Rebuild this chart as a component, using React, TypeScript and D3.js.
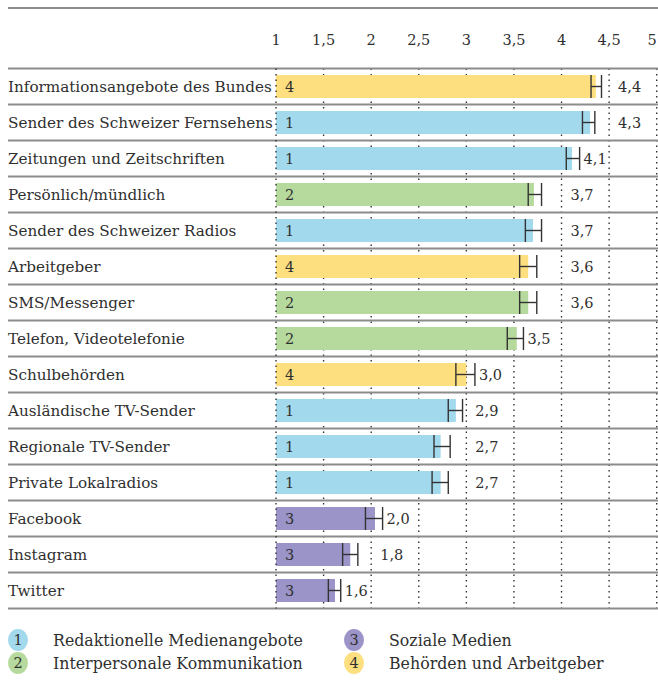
import React from 'react';
import * as d3 from 'd3';

const categories = [
  'Informationsangebote des Bundes',
  'Sender des Schweizer Fernsehens',
  'Zeitungen und Zeitschriften',
  'Persönlich/mündlich',
  'Sender des Schweizer Radios',
  'Arbeitgeber',
  'SMS/Messenger',
  'Telefon, Videotelefonie',
  'Schulbehörden',
  'Ausländische TV-Sender',
  'Regionale TV-Sender',
  'Private Lokalradios',
  'Facebook',
  'Instagram',
  'Twitter',
];
const groups = [4, 1, 1, 2, 1, 4, 2, 2, 4, 1, 1, 1, 3, 3, 3];
const means = [4.36, 4.30, 4.11, 3.71, 3.70, 3.65, 3.65, 3.53, 3.00, 2.89, 2.73, 2.73, 2.04, 1.78, 1.62];
const ciLow = [4.31, 4.22, 4.05, 3.65, 3.62, 3.56, 3.56, 3.43, 2.89, 2.81, 2.66, 2.64, 1.94, 1.70, 1.55];
const ciHigh = [4.42, 4.35, 4.19, 3.79, 3.79, 3.74, 3.74, 3.60, 3.09, 2.96, 2.83, 2.81, 2.12, 1.86, 1.68];
const valueLabels = ['4,4', '4,3', '4,1', '3,7', '3,7', '3,6', '3,6', '3,5', '3,0', '2,9', '2,7', '2,7', '2,0', '1,8', '1,6'];
const ticks = [1, 1.5, 2, 2.5, 3, 3.5, 4, 4.5, 5];
const tickLabels = ['1', '1,5', '2', '2,5', '3', '3,5', '4', '4,5', '5'];
const legendGroups = [1, 2, 3, 4];
const legendNames = ['Redaktionelle Medienangebote', 'Interpersonale Kommunikation', 'Soziale Medien', 'Behörden und Arbeitgeber'];
const groupColors = ['#a2d9ec', '#b6da9d', '#9b94c8', '#fddf80'];

const W = 658;
const H = 687;
const FONT = "'DejaVu Serif', serif";
const TEXT = '#2f2f2f';

export default function App() {
  const x = d3.scaleLinear().domain([1, 5]).range([276, 656.7]);
  const y = d3.scaleBand<string>().domain(categories).range([68.5, 608.5]);
  const barH = 23;
  const color = d3.scaleOrdinal<number, string>().domain(legendGroups).range(groupColors);

  // value label goes right of the error bar, or past the next gridline if it would touch it
  const labelX = (i: number) => {
    const start = x(ciHigh[i]) + 4;
    const next = ticks.find(t => t > ciHigh[i]) ?? 5;
    if (start + 23 > x(next) - 1) return x(next) + 9;
    return start;
  };

  const sepYs = d3.range(categories.length + 1).map(i => y.range()[0] + i * y.bandwidth());

  return (
    <div style={{ position: 'absolute', left: 0, top: 0 }}>
      <svg width={W} height={H} style={{ display: 'block', background: '#fff' }} fontFamily={FONT}>
        <line x1={8} x2={W} y1={8} y2={8} stroke="#8c8c8c" strokeWidth={2} />
        {ticks.map((t, i) => (
          <text key={'tl' + i} x={Math.min(x(t), 652)} y={45} textAnchor="middle" fontSize={14.5} fill={TEXT}>
            {tickLabels[i]}
          </text>
        ))}
        {ticks.filter(t => t !== 1).map(t => (
          <line key={'g' + t} x1={x(t)} x2={x(t)} y1={68.5} y2={608.5} stroke="#333" strokeWidth={1.4} strokeDasharray="1.5 4" />
        ))}
        {sepYs.map((sy, i) => (
          <line key={'s' + i} x1={8} x2={W} y1={sy} y2={sy} stroke="#8c8c8c" strokeWidth={2} />
        ))}
        {categories.map((c, i) => {
          const cy = (y(c) ?? 0) + y.bandwidth() / 2;
          return (
            <g key={c}>
              <text x={8} y={cy + 5.5} fontSize={15.2} fill={TEXT}>{c}</text>
              <rect x={x(1)} y={cy - barH / 2} width={x(means[i]) - x(1)} height={barH} fill={color(groups[i])} />
              <text x={x(1) + 9} y={cy + 5.5} fontSize={14.5} fill={TEXT}>{groups[i]}</text>
              <line x1={x(ciLow[i])} x2={x(ciHigh[i])} y1={cy} y2={cy} stroke="#333" strokeWidth={1.4} />
              <line x1={x(ciLow[i])} x2={x(ciLow[i])} y1={cy - barH / 2} y2={cy + barH / 2} stroke="#333" strokeWidth={1.4} />
              <line x1={x(ciHigh[i])} x2={x(ciHigh[i])} y1={cy - barH / 2} y2={cy + barH / 2} stroke="#333" strokeWidth={1.4} />
              <text x={labelX(i)} y={cy + 5.5} fontSize={14.5} fill={TEXT}>{valueLabels[i]}</text>
            </g>
          );
        })}
        <line x1={x(1)} x2={x(1)} y1={68.5} y2={608.5} stroke="#333" strokeWidth={1.4} strokeDasharray="1.5 4" />
        {legendGroups.map((g, i) => {
          const lx = i < 2 ? 18 : 354;
          const ly = 640 + (i % 2) * 23;
          return (
            <g key={'lg' + g}>
              <ellipse cx={lx} cy={ly} rx={10} ry={11} fill={color(g)} />
              <text x={lx} y={ly + 5} textAnchor="middle" fontSize={14.5} fill={TEXT}>{g}</text>
              <text x={lx + 35} y={ly + 5.5} fontSize={15.8} fill={TEXT}>{legendNames[i]}</text>
            </g>
          );
        })}
      </svg>
    </div>
  );
}
